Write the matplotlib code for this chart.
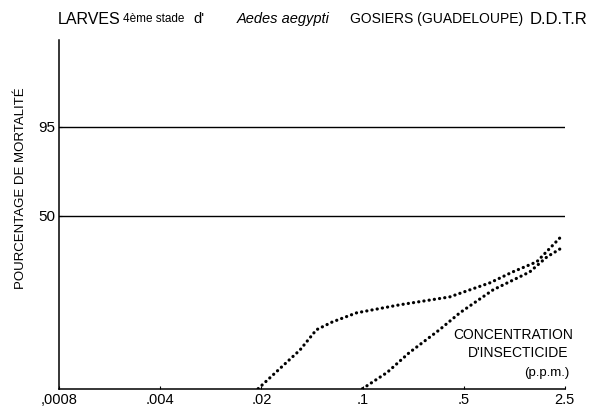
"""Log-probit mortality curves for Aedes aegypti larvae (DDT-R, Gosiers)."""
from statistics import NormalDist

import matplotlib
matplotlib.use("Agg")
import matplotlib.pyplot as plt
from matplotlib.ticker import FixedLocator, NullLocator

# concentration ticks (p.p.m.) and probit ticks (% mortality)
X_TICKS = [0.0008, 0.004, 0.02, 0.1, 0.5, 2.5]
X_TICK_LABELS = [",0008", ".004", ".02", ".1", ".5", "2.5"]
Y_TICKS = [50, 95]

# curve 1: starts at .02 p.p.m.
curve1_conc = [0.019, 0.037, 0.048, 0.062, 0.091, 0.18, 0.40, 0.76, 1.09, 1.6, 2.31]
curve1_mort = [0.07, 0.66, 1.76, 2.5, 3.65, 5.0, 6.7, 10.8, 15.0, 19.8, 34.2]

# curve 2: starts at .1 p.p.m.
curve2_conc = [0.1, 0.148, 0.21, 0.34, 0.47, 0.80, 1.43, 1.88, 2.38]
curve2_mort = [0.07, 0.19, 0.57, 1.76, 3.65, 8.6, 15.0, 22.4, 27.7]

NORM = NormalDist()


def probit(values):
    return [NORM.inv_cdf(v / 100.0) for v in values]


plt.rcParams["font.family"] = ["Liberation Sans", "DejaVu Sans"]

fig = plt.figure(figsize=(6.16, 4.15), dpi=100)
ax = fig.add_axes([0.0958, 0.0627, 0.8212, 0.8409])

ax.set_xscale("log")
ax.set_xlim(0.0008, 2.5)
ax.set_ylim(-3.2, 3.25)

for y in Y_TICKS:
    ax.axhline(NORM.inv_cdf(y / 100.0), color="black", lw=1.0)

dot = dict(color="black", lw=2.3, linestyle=(0, (0.05, 1.6)),
           dash_capstyle="round", solid_capstyle="round")
ax.plot(curve1_conc, probit(curve1_mort), **dot)
ax.plot(curve2_conc, probit(curve2_mort), **dot)

ax.spines["top"].set_visible(False)
ax.spines["right"].set_visible(False)
ax.spines["left"].set_linewidth(1.1)
ax.spines["bottom"].set_linewidth(1.1)

ax.xaxis.set_major_locator(FixedLocator(X_TICKS))
ax.xaxis.set_minor_locator(NullLocator())
ax.set_xticklabels(X_TICK_LABELS, fontsize=10.5)
ax.set_yticks(probit(Y_TICKS))
ax.set_yticklabels([str(v) for v in Y_TICKS], fontsize=11)
ax.tick_params(axis="both", direction="in", length=2, width=0.8, pad=3)

fig.text(0.034, 0.547, "POURCENTAGE DE MORTALITÉ", rotation=90,
         ha="center", va="center", fontsize=9.5)

# title, assembled from pieces in different styles (left edges in pixels)
W = 616.0
ty = 0.954
fig.text(58 / W, ty, "LARVES", fontsize=11.5, va="center")
fig.text(123 / W, ty, "4ème stade", fontsize=8.5, va="center")
fig.text(193 / W, ty, "d'", fontsize=10.5, va="center")
fig.text(237 / W, ty, "Aedes aegypti", fontsize=10.5, style="italic", va="center")
fig.text(350 / W, ty, "GOSIERS (GUADELOUPE)", fontsize=10, va="center")
fig.text(530 / W, ty, "D.D.T.R", fontsize=12, va="center")

ax.text(0.930, 0.193, "CONCENTRATION", transform=fig.transFigure,
        ha="right", va="center", fontsize=10)
ax.text(0.922, 0.150, "D'INSECTICIDE", transform=fig.transFigure,
        ha="right", va="center", fontsize=10)
ax.text(0.925, 0.101, "(p.p.m.)", transform=fig.transFigure,
        ha="right", va="center", fontsize=9.5)

fig.savefig("out.png", dpi=100)
